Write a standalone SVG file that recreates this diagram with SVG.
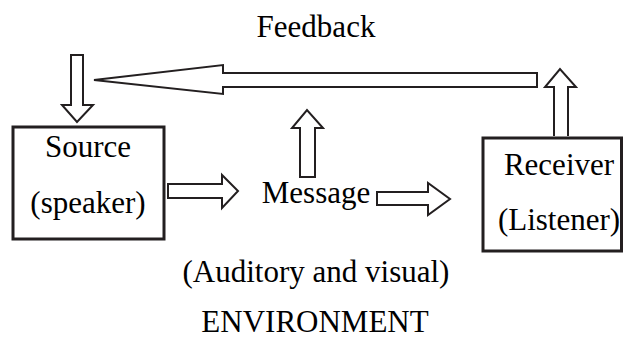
<svg xmlns="http://www.w3.org/2000/svg" width="624" height="338" viewBox="0 0 624 338">
<style>
.t{font-family:"Liberation Serif","Times New Roman",serif;font-size:31px;fill:#000;text-anchor:middle}
.box{fill:#fff;stroke:#231f20;stroke-width:3}
.arr{fill:#fff;stroke:#231f20;stroke-width:2;stroke-linejoin:miter}
</style>
<rect width="624" height="338" fill="#fff"/>
<g id="connectors">
<path class="arr" d="M537,73 L223,73 L223,65 L94,80 L223,94 L223,87 L537,87 Z"/>
<path class="arr" d="M71,55 L83,55 L83,105 L93,105 L77,122 L62,105 L71,105 Z"/>
<path class="arr" d="M554,136 L554,87 L545,87 L560,69 L576,87 L568,87 L568,136"/>
<path class="arr" d="M300,177 L300,128 L292,128 L307,110 L323,128 L315,128 L315,177 Z"/>
<path class="arr" d="M168,184 L222,184 L222,175 L238,191 L222,208 L222,198 L168,198 Z"/>
<path class="arr" d="M377,192 L428,192 L428,183 L450,199 L428,215 L428,205 L377,205 Z"/>
</g>
<g id="feedback"><text class="t" x="316" y="37">Feedback</text></g>
<g id="source">
<rect class="box" x="13" y="127" width="151" height="112"/>
<text class="t" x="88" y="157">Source</text>
<text class="t" x="88" y="213">(speaker)</text>
</g>
<g id="message"><text class="t" x="316" y="203">Message</text></g>
<g id="receiver">
<rect class="box" x="483" y="138" width="138.5" height="113"/>
<text class="t" x="559" y="175">Receiver</text>
<text class="t" x="559" y="230">(Listener)</text>
</g>
<g id="auditory"><text class="t" x="316" y="282">(Auditory and visual)</text></g>
<g id="environment"><text class="t" x="315" y="332">ENVIRONMENT</text></g>
</svg>
